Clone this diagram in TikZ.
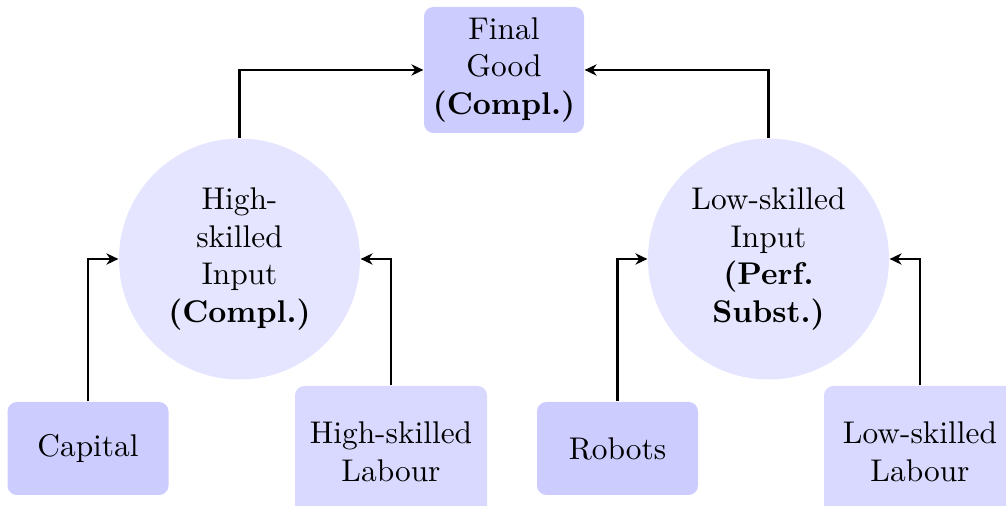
\documentclass[tikz,border=0pt]{standalone}
\usetikzlibrary{arrows.meta}
\begin{document}
\begin{tikzpicture}[x=0.0112cm, y=-0.0112cm,
  goodbox/.style={rectangle, rounded corners=3pt, fill=blue!20, align=center,
    minimum width=160*0.0112cm, minimum height=126*0.0112cm, inner sep=0pt},
  inputcirc/.style={circle, fill=blue!10, align=center,
    minimum size=241*0.0112cm, inner sep=0pt},
  capbox/.style={rectangle, rounded corners=3pt, fill=blue!20, align=center,
    minimum width=161*0.0112cm, minimum height=93*0.0112cm, inner sep=0pt},
  labbox/.style={rectangle, rounded corners=3pt, fill=blue!15, align=center,
    minimum width=192*0.0112cm, minimum height=132*0.0112cm, inner sep=0pt},
  flow/.style={line width=0.7pt, -{Stealth[length=3.8pt, width=3.6pt, inset=1.2pt]}}]
\useasboundingbox (0,0) rectangle (1006,506);

\node[goodbox] (final) at (504,70) {Final\\Good\\\textbf{(Compl.)}};

\node[inputcirc] (high) at (239.5,259) {High-\\skilled\\Input\\\textbf{(Compl.)}};
\node[inputcirc] (low) at (768.5,259) {Low-skilled\\Input\\\textbf{(Perf.}\\\textbf{Subst.)}};

\node[capbox] (capital) at (88,448.5) {Capital};
\node[labbox] (hlab) at (391,452) {High-skilled\\Labour};
\node[capbox] (robots) at (617.5,448.5) {Robots};
\node[labbox] (llab) at (920,452) {Low-skilled\\Labour};

\draw[flow] (high.north) |- (final.west);
\draw[flow] (low.north) |- (final.east);
\draw[flow] (capital.north) |- (high.west);
\draw[flow] (hlab.north) |- (high.east);
\draw[flow] (robots.north) |- (low.west);
\draw[flow] (llab.north) |- (low.east);
\end{tikzpicture}
\end{document}
